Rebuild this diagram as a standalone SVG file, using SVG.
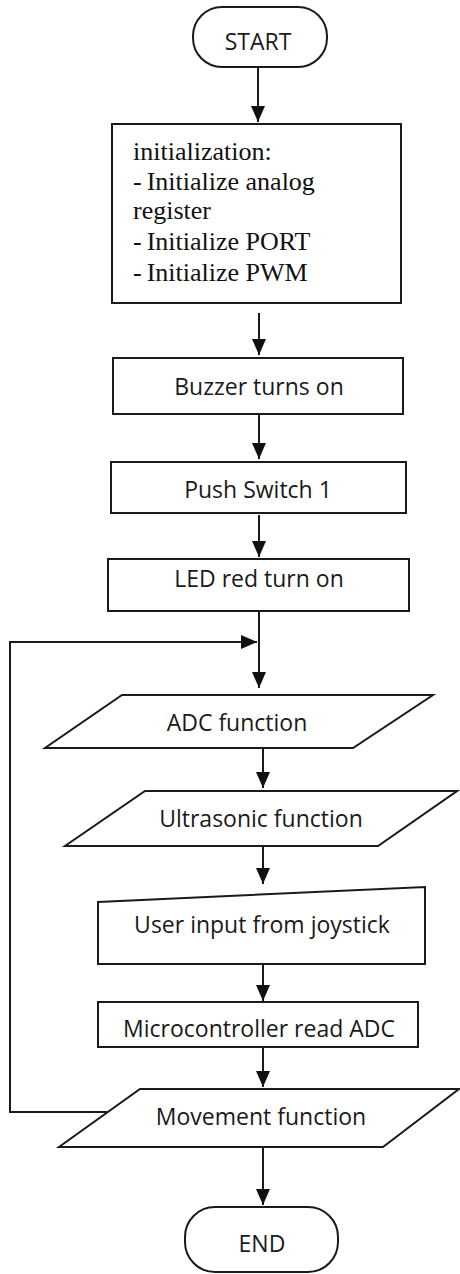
<svg xmlns="http://www.w3.org/2000/svg" width="460" height="1274" viewBox="0 0 460 1274">
<defs>
<marker id="ah" markerUnits="userSpaceOnUse" markerWidth="16" markerHeight="14" refX="16" refY="7" orient="auto">
<path d="M0,0 L16,7 L0,14 z" fill="#111"/>
</marker>
<style>
.sh{fill:#fff;stroke:#1a1a1a;stroke-width:2}
.cn{fill:none;stroke:#1a1a1a;stroke-width:2;marker-end:url(#ah)}
.ln{fill:none;stroke:#1a1a1a;stroke-width:2}
.t{font-family:"Open Sans","Liberation Sans",sans-serif;font-size:23px;fill:#1a1a1a;text-anchor:middle}
.s{font-family:"Liberation Serif","Times New Roman",serif;font-size:26px;fill:#111}
</style>
</defs>
<rect width="460" height="1274" fill="#fff"/>
<g id="connectors">
<line class="cn" x1="258" y1="67" x2="258" y2="122"/>
<line class="cn" x1="259" y1="313" x2="259" y2="355"/>
<line class="cn" x1="259" y1="414" x2="259" y2="459"/>
<line class="cn" x1="259" y1="515" x2="259" y2="557"/>
<line class="cn" x1="259" y1="611" x2="259" y2="688"/>
<path class="cn" d="M107,1112 H10 V642 H257"/>
<line class="cn" x1="263" y1="748" x2="263" y2="788"/>
<line class="cn" x1="263" y1="846" x2="263" y2="884"/>
<line class="cn" x1="263" y1="964" x2="263" y2="1001"/>
<line class="cn" x1="263" y1="1047" x2="263" y2="1087"/>
<line class="cn" x1="263" y1="1147" x2="263" y2="1205"/>
</g>
<g id="start">
<rect class="sh" x="193" y="7" width="134" height="60" rx="29" ry="29"/>
<text class="t" x="258" y="50">START</text>
</g>
<g id="init">
<rect class="sh" x="112" y="124" width="289" height="179"/>
<text class="s" x="133" y="160">initialization:</text>
<text class="s" x="133" y="190"><tspan>-</tspan><tspan dx="5">Initialize analog</tspan></text>
<text class="s" x="133" y="219">register</text>
<text class="s" x="133" y="250"><tspan>-</tspan><tspan dx="5">Initialize PORT</tspan></text>
<text class="s" x="133" y="281"><tspan>-</tspan><tspan dx="5">Initialize PWM</tspan></text>
</g>
<g id="buzzer">
<rect class="sh" x="113" y="358" width="290" height="56"/>
<text class="t" x="259" y="395">Buzzer turns on</text>
</g>
<g id="push">
<rect class="sh" x="111" y="462" width="295" height="51"/>
<text class="t" x="258" y="498">Push Switch 1</text>
</g>
<g id="led">
<rect class="sh" x="108" y="559" width="301" height="52"/>
<text class="t" x="259" y="587">LED red turn on</text>
</g>
<g id="adc">
<polygon class="sh" points="122,695 433,695 353,748 45,748"/>
<text class="t" x="237" y="731">ADC function</text>
</g>
<g id="ultrasonic">
<polygon class="sh" points="145,791 457,791 378,846 65,846"/>
<text class="t" x="261" y="827">Ultrasonic function</text>
</g>
<g id="userinput">
<polygon class="sh" points="98,902 425,887 425,964 98,964"/>
<text class="t" x="262" y="933">User input from joystick</text>
</g>
<g id="micro">
<rect class="sh" x="98" y="1002" width="320" height="45"/>
<text class="t" x="259" y="1037">Microcontroller read ADC</text>
</g>
<g id="movement">
<polygon class="sh" points="140,1089 459,1089 383,1147 59,1147"/>
<text class="t" x="261" y="1125">Movement function</text>
</g>
<g id="end">
<rect class="sh" x="185" y="1207" width="153" height="65" rx="30" ry="30"/>
<text class="t" x="262" y="1252">END</text>
</g>
</svg>
